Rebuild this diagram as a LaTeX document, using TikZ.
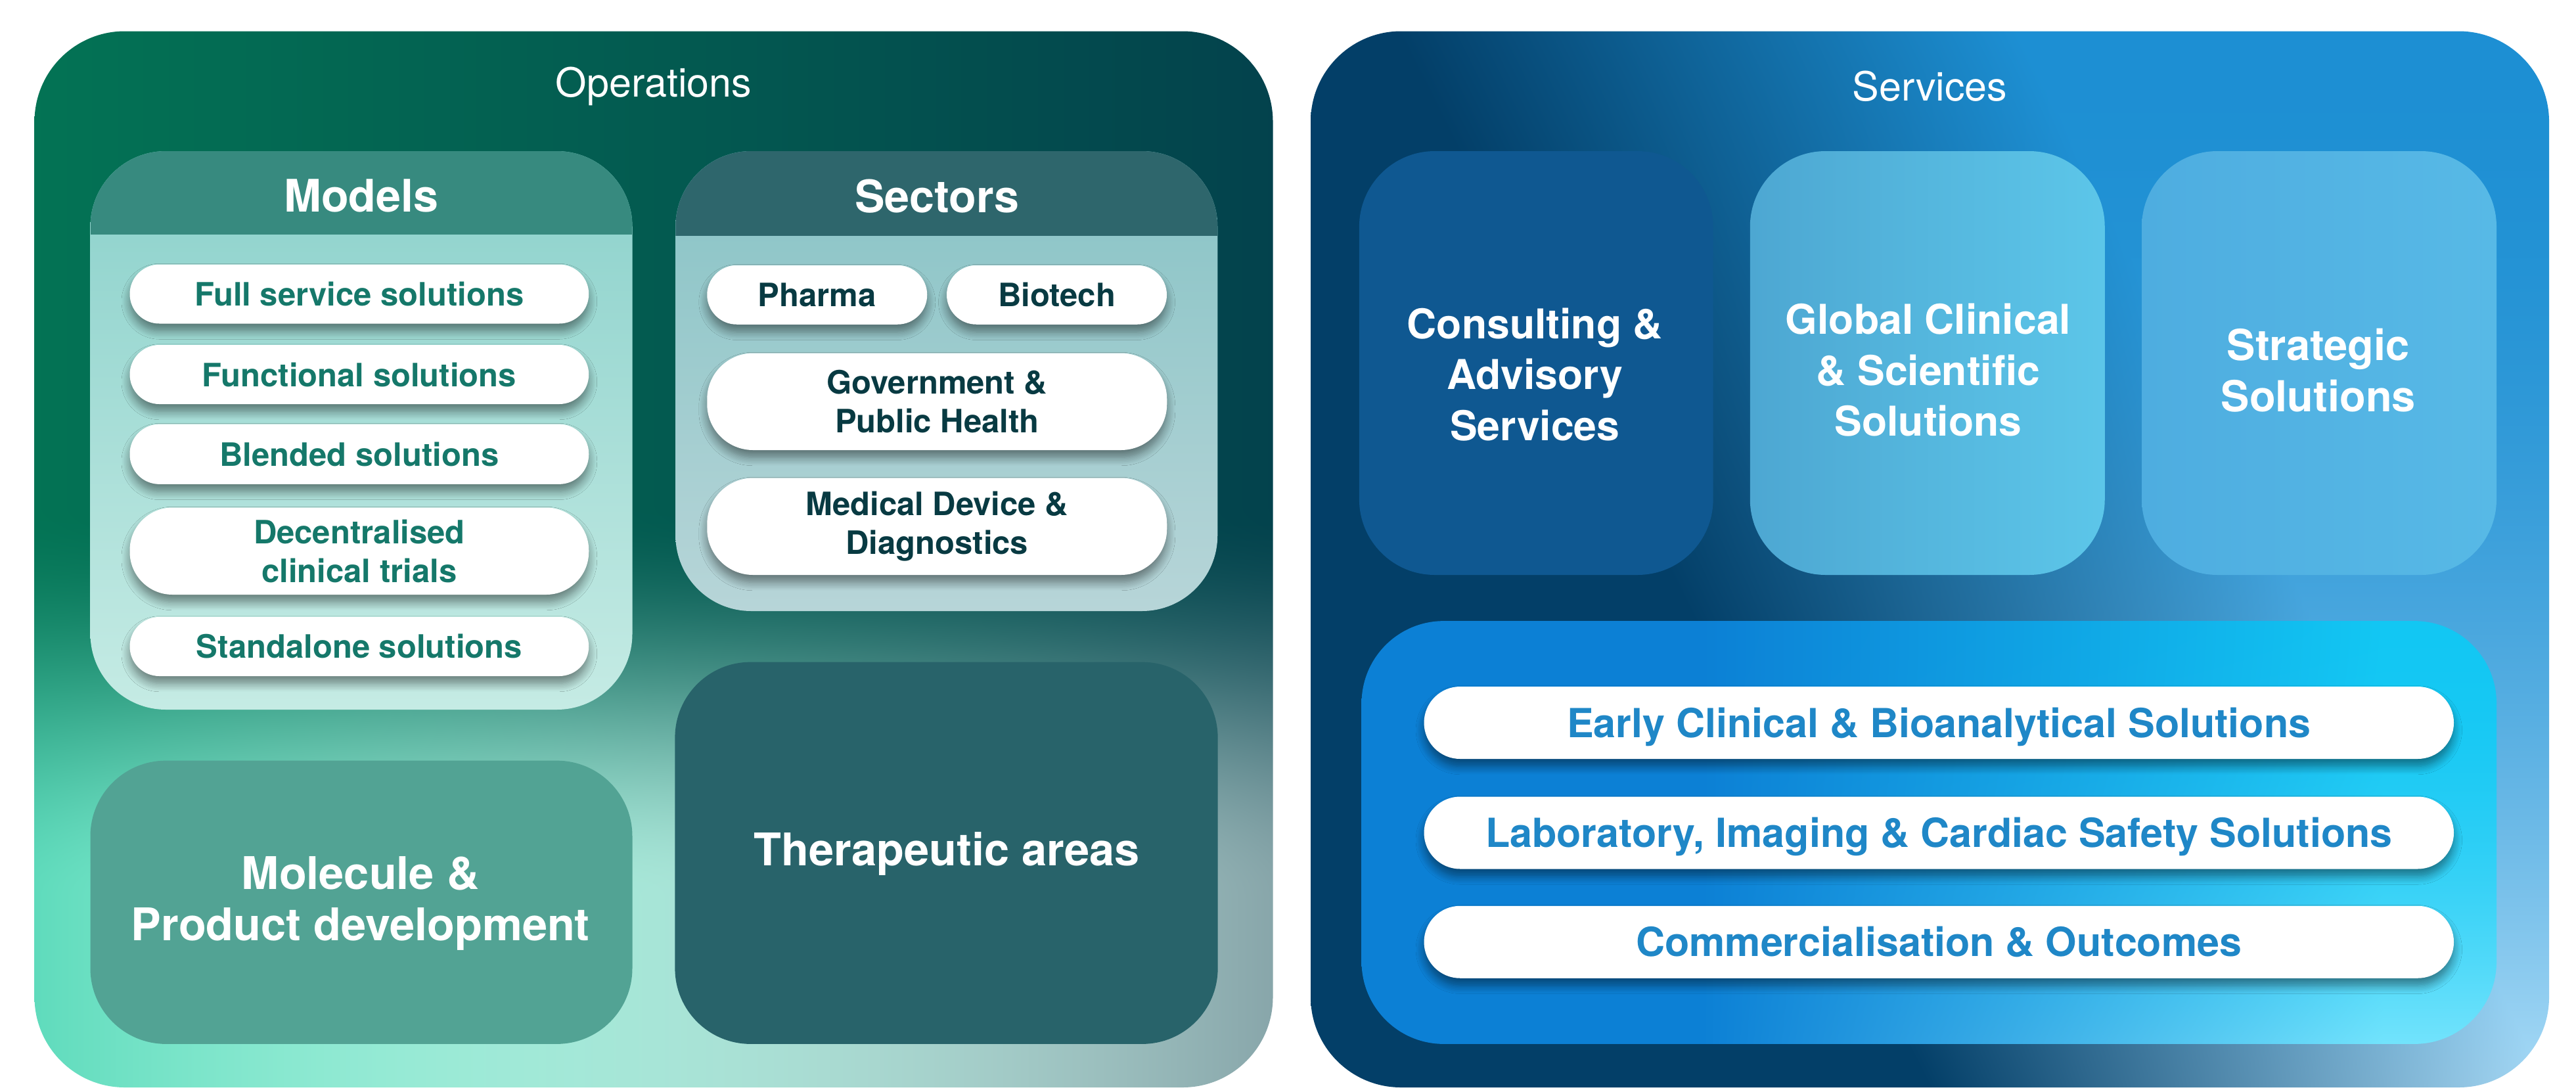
\documentclass[tikz,border=0pt]{standalone}
\usepackage{fontspec}
\setmainfont{TeX Gyre Heros}
\usetikzlibrary{shadows.blur}

\pgfdeclarefunctionalshading{opsshade}{\pgfpoint{0bp}{0bp}}{\pgfpoint{100bp}{100bp}}{}{
75 exch sub 50 div exch 25 sub 50 div exch
0.45 sub 0.37 div dup 0 lt {pop 0} if dup 1 gt {pop 1} if
dup dup mul exch 2 mul 3 exch sub mul
exch dup 1 exch sub 4 mul 1 index mul
dup 0.202 mul 2 index 0.16 mul add 0.373 add 0.01 sub 3 index mul 0.01 add
1 index 0.143 mul 3 index 0.018 mul sub 0.409 add 4 index mul 0.45 add 3 index 0.19 mul sub
2 index 0.141 mul 4 index 0.04 mul sub 0.407 add 5 index mul 0.33 add 4 index 0.03 mul sub
6 -3 roll pop pop pop
}

\pgfdeclarefunctionalshading{svcshade}{\pgfpoint{0bp}{0bp}}{\pgfpoint{100bp}{100bp}}{}{
75 exch sub 50 div exch 25 sub 50 div exch
dup 0.43 mul 3 -1 roll exch sub 0.07 sub 2 mul
dup 0 lt {pop 0} if dup 1 gt {pop 1} if
exch dup mul exch
1 index 0.545 mul 0.102 add 1 index mul 0.012 add
2 index 0.294 mul 0.314 add 2 index mul 0.247 add
3 index 0.138 mul 0.419 add 3 index mul 0.408 add
5 -2 roll pop pop
}

\pgfdeclarefunctionalshading{blueshade}{\pgfpoint{0bp}{0bp}}{\pgfpoint{100bp}{100bp}}{}{
75 exch sub 50 div exch 25 sub 50 div
0.3 sub 0.6 div dup 0 lt {pop 0} if dup 1 gt {pop 1} if
exch dup mul exch
1 index 0.376 mul 0.024 add 1 index mul 0.047 add
2 index 0.11 mul 0.278 add 2 index mul 0.502 add
3 index 0.035 mul 0.118 add 3 index mul 0.835 add
5 -2 roll pop pop
}

\definecolor{modelsHead}{HTML}{378A7F}
\definecolor{modelsTop}{HTML}{8BD1CB}
\definecolor{modelsBot}{HTML}{C5EBE4}
\definecolor{sectorsHead}{HTML}{2E666C}
\definecolor{sectorsTop}{HTML}{87C3C5}
\definecolor{sectorsBot}{HTML}{B7D5D8}
\definecolor{moleculeCol}{HTML}{52A394}
\definecolor{therapCol}{HTML}{28636A}
\definecolor{consultCol}{HTML}{0F5891}
\definecolor{globalL}{HTML}{4DA7D2}
\definecolor{globalR}{HTML}{5CC6E9}
\definecolor{stratL}{HTML}{4EADE0}
\definecolor{stratR}{HTML}{57B9E6}
\definecolor{modelsText}{HTML}{15786A}
\definecolor{sectorsText}{HTML}{083A42}
\definecolor{blueText}{HTML}{1F87C7}

\newcommand\ftitle{\fontsize{24.4}{29}\selectfont}
\newcommand\fhead{\fontsize{27.3}{32}\selectfont\bfseries}
\newcommand\fpill{\fontsize{19.6}{23.5}\selectfont\bfseries}
\newcommand\fbig{\fontsize{27.4}{31}\selectfont\bfseries}
\newcommand\fsvc{\fontsize{25}{31}\selectfont\bfseries}
\newcommand\fsvcpill{\fontsize{24.4}{28}\selectfont\bfseries}

\tikzset{
  every node/.style={inner sep=0pt, outer sep=0pt},
  bigbox/.style={rectangle, rounded corners=55pt},
  innerbox/.style={rectangle, rounded corners=46pt},
  pillbox/.style={rectangle, fill=white, align=center,
    blur shadow={shadow xshift=0pt, shadow yshift=-4.5pt, shadow blur radius=5pt,
      shadow opacity=45, shadow blur steps=10}},
  modelpill/.style={pillbox, rounded corners=18pt, minimum width=279.5pt,
    font=\fpill, text=modelsText},
  sectorpill/.style={pillbox, font=\fpill, text=sectorsText},
  svcpill/.style={pillbox, rounded corners=22pt, minimum width=627pt,
    minimum height=44pt, font=\fsvcpill, text=blueText,
    text height=17.6pt, text depth=0pt},
  titletext/.style={text=white, font=\ftitle},
  headtext/.style={text=white, font=\fhead},
  bigtext/.style={text=white, font=\fbig, align=center},
  svctext/.style={text=white, font=\fsvc, align=center},
}

\begin{document}
\begin{tikzpicture}[x=1pt,y=-1pt]
\useasboundingbox (0,0) rectangle (1568.4,664.4);
\fill[white] (0,0) rectangle (1568.4,664.4);

% outer panels
\node[bigbox, shading=opsshade, minimum width=754pt, minimum height=643pt] (ops) at (398,340.5) {};
\node[bigbox, shading=svcshade, minimum width=754pt, minimum height=643pt] (svc) at (1175,340.5) {};
\node[titletext] (opsT) at (398,52.5) {Operations};
\node[titletext] (svcT) at (1175,52.5) {Services};

% Models
\node[innerbox, top color=modelsTop, bottom color=modelsBot, minimum width=330pt, minimum height=340pt] (models) at (220,262) {};
\begin{scope}
  \clip[rounded corners=46pt] (models.north west) rectangle (models.south east);
  \fill[modelsHead] (models.north west) rectangle ([yshift=-50.6pt]models.north east);
\end{scope}
\node[headtext] (modelsT) at (220,119) {Models};
\node[modelpill, minimum height=36pt] (m1) at (218.75,179) {Full service solutions};
\node[modelpill, minimum height=36pt] (m2) at (218.75,228) {Functional solutions};
\node[modelpill, minimum height=36.5pt] (m3) at (218.75,276.5) {Blended solutions};
\node[modelpill, minimum height=53pt, rounded corners=26pt] (m4) at (218.75,335.5) {Decentralised\\clinical trials};
\node[modelpill, minimum height=36pt] (m5) at (218.75,393.6) {Standalone solutions};

% Sectors
\node[innerbox, top color=sectorsTop, bottom color=sectorsBot, minimum width=330pt, minimum height=280pt] (sectors) at (576.3,232) {};
\begin{scope}
  \clip[rounded corners=46pt] (sectors.north west) rectangle (sectors.south east);
  \fill[sectorsHead] (sectors.north west) rectangle ([yshift=-51.4pt]sectors.north east);
\end{scope}
\node[headtext] (sectorsT) at (570.5,119.5) {Sectors};
\node[sectorpill, rounded corners=18pt, minimum width=134pt, minimum height=36pt] (s1) at (497.5,179.5) {Pharma};
\node[sectorpill, rounded corners=18pt, minimum width=134pt, minimum height=36pt] (s2) at (643.4,179.5) {Biotech};
\node[sectorpill, rounded corners=28pt, minimum width=280pt, minimum height=59pt] (s3) at (570.5,244.5) {Government \&\\Public Health};
\node[sectorpill, rounded corners=28pt, minimum width=280pt, minimum height=59pt] (s4) at (570.5,320.5) {\raisebox{0pt}{}Medical Device \&\\Diagnostics};

% Molecule & Therapeutic
\node[innerbox, fill=moleculeCol, minimum width=330pt, minimum height=172.5pt] (molecule) at (220,549.3) {};
\node[bigtext] (moleculeT) at (219.5,550) {Molecule \&\\Product development};
\node[innerbox, fill=therapCol, minimum width=330.5pt, minimum height=232.5pt] (therap) at (576.2,519.3) {};
\node[bigtext, text height=20pt, text depth=0pt] (therapT) at (576.5,517) {Therapeutic areas};

% Services boxes
\node[innerbox, fill=consultCol, minimum width=215.5pt, minimum height=258pt] (consult) at (935.3,221) {};
\node[svctext] (consultT) at (934.5,228) {Consulting \&\\Advisory\\Services};
\node[innerbox, left color=globalL, right color=globalR, minimum width=216pt, minimum height=258pt] (global) at (1173.5,221) {};
\node[svctext] (globalT) at (1174,225.3) {Global Clinical\\\& Scientific\\Solutions};
\node[innerbox, left color=stratL, right color=stratR, minimum width=216pt, minimum height=258pt] (strat) at (1412,221) {};
\node[svctext, font=\fontsize{26}{31}\selectfont\bfseries] (stratT) at (1411.5,225.4) {Strategic\\Solutions};

\node[rectangle, rounded corners=50pt, shading=blueshade, minimum width=691pt, minimum height=257.5pt] (blue) at (1174.5,506.8) {};
\node[svcpill] (b1) at (1180.5,440) {Early Clinical \& Bioanalytical Solutions};
\node[svcpill] (b2) at (1180.5,507) {Laboratory, Imaging \& Cardiac Safety Solutions};
\node[svcpill] (b3) at (1180.5,573.5) {Commercialisation \& Outcomes};
\end{tikzpicture}
\end{document}
